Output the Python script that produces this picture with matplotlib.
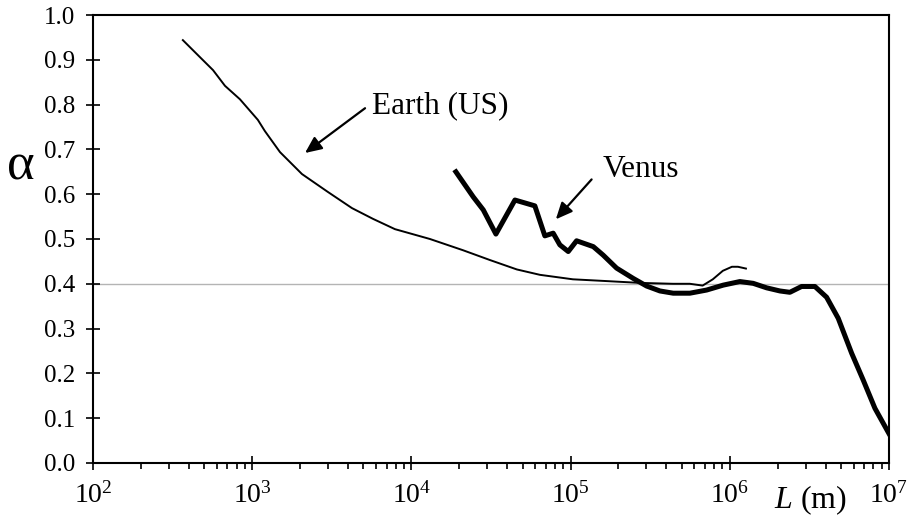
import numpy as np
import matplotlib.pyplot as plt
from matplotlib.ticker import LogLocator, FixedLocator

plt.rcParams['font.family'] = ['Liberation Serif', 'DejaVu Serif']
plt.rcParams['mathtext.fontset'] = 'custom'
plt.rcParams['mathtext.rm'] = 'Liberation Serif'
plt.rcParams['mathtext.it'] = 'Liberation Serif:italic'

# Earth (US) curve
earth_L = [367, 470, 568, 675, 838, 1086, 1202, 1496, 2056, 2992, 4236, 5741,
           7889, 13090, 21090, 31190, 46030, 64270, 103500, 169400, 272900,
           439500, 562300, 676100, 783400, 905700, 1033000, 1127000, 1265000]
earth_a = [0.944, 0.906, 0.877, 0.842, 0.812, 0.766, 0.741, 0.694, 0.645, 0.605,
           0.569, 0.545, 0.522, 0.500, 0.475, 0.453, 0.432, 0.420, 0.410, 0.406,
           0.402, 0.400, 0.400, 0.396, 0.410, 0.429, 0.438, 0.438, 0.434]

# Venus curve
venus_L = [19050, 24490, 28310, 33990, 44760, 59700, 69000, 77840, 85700, 96800,
           109200, 139000, 160400, 194800, 247800, 300600, 364400, 441900, 562300,
           716100, 910600, 1159000, 1405000, 1706000, 2067000, 2388000, 2829000,
           3430000, 4063000, 4807000, 5837000, 6902000, 8175000, 10000000]
venus_a = [0.650, 0.594, 0.565, 0.511, 0.587, 0.574, 0.507, 0.513, 0.487, 0.472,
           0.496, 0.483, 0.464, 0.435, 0.412, 0.395, 0.384, 0.379, 0.379,
           0.386, 0.397, 0.405, 0.401, 0.391, 0.384, 0.381, 0.394,
           0.394, 0.370, 0.323, 0.245, 0.185, 0.122, 0.066]

ref_level = 0.4

fig = plt.figure(figsize=(9.07, 5.19), dpi=100)
ax = fig.add_axes([0.1025, 0.108, 0.8775, 0.863])

ax.axhline(ref_level, color='#b4b4b4', lw=1.0, zorder=1)
ax.plot(earth_L, earth_a, color='black', lw=1.4, zorder=3)
ax.plot(venus_L, venus_a, color='black', lw=3.6, zorder=3)

ax.set_xscale('log')
ax.set_xlim(1e2, 1e7)
ax.set_ylim(0, 1.0)
ax.set_yticks(np.arange(0, 1.01, 0.1))
ax.set_yticklabels([f'{v:.1f}' for v in np.arange(0, 1.01, 0.1)])
ax.xaxis.set_major_locator(FixedLocator([1e2, 1e3, 1e4, 1e5, 1e6, 1e7]))
ax.set_xticklabels([r'$10^{%d}$' % k for k in range(2, 8)])
ax.xaxis.set_minor_locator(LogLocator(base=10, subs=np.arange(2, 10)))
ax.tick_params(axis='x', which='minor', direction='out', length=4.5, width=1.2)
ax.tick_params(axis='x', which='major', direction='inout', length=10, width=1.2,
               labelsize=20, pad=9)
ax.tick_params(axis='y', which='both', direction='inout', length=10, width=1.2,
               labelsize=18, pad=8)
ax.tick_params(top=False, right=False)

for s in ax.spines.values():
    s.set_linewidth(1.5)
    s.set_color('black')

# annotations
arrow = dict(arrowstyle='-|>,head_length=1.0,head_width=0.45',
             color='black', lw=1.6, shrinkA=0, shrinkB=0)
ax.annotate('', xy=(2148, 0.692), xytext=(5120, 0.792), arrowprops=arrow)
ax.text(5650, 0.797, 'Earth (US)', fontsize=22.5, ha='left', va='center')
ax.annotate('', xy=(80900, 0.544), xytext=(135700, 0.633), arrowprops=arrow)
ax.text(159800, 0.656, 'Venus', fontsize=22.5, ha='left', va='center')

fig.text(21 / 907, 1 - 166 / 519, 'α', fontsize=38, ha='center', va='center')
fig.text(810 / 907, 1 - 500 / 519, r'$\it{L}$ (m)', fontsize=23, ha='center', va='center')

fig.savefig('out.png', dpi=100)
